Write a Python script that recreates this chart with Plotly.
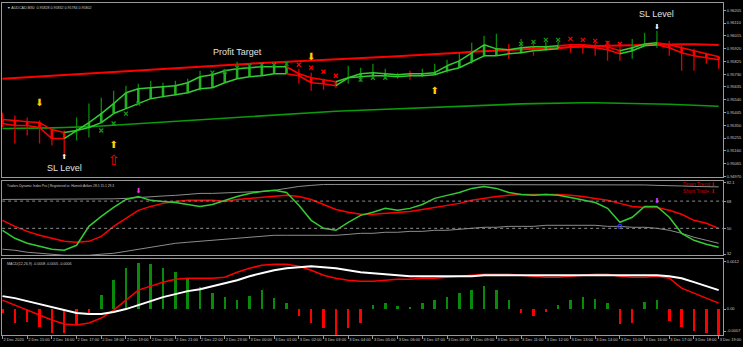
import plotly.graph_objects as go
from plotly.subplots import make_subplots

# ---------------- data ----------------
time_labels = ["2 Dec 2020", "2 Dec 15:00", "2 Dec 16:00", "2 Dec 17:00", "2 Dec 18:00", "2 Dec 19:00",
               "2 Dec 20:00", "2 Dec 21:00", "2 Dec 22:00", "2 Dec 23:00", "3 Dec 00:00", "3 Dec 01:00",
               "3 Dec 02:00", "3 Dec 03:00", "3 Dec 04:00", "3 Dec 05:00", "3 Dec 06:00", "3 Dec 07:00",
               "3 Dec 08:00", "3 Dec 09:00", "3 Dec 10:00", "3 Dec 11:00", "3 Dec 12:00", "3 Dec 13:00",
               "3 Dec 14:00", "3 Dec 15:00", "3 Dec 16:00", "3 Dec 17:00", "3 Dec 18:00", "3 Dec 19:00"]

bar_high = [0.95444, 0.95422, 0.95407, 0.95385, 0.95326, 0.95311, 0.95407, 0.95511, 0.95555, 0.95607,
            0.95644, 0.95659, 0.95681, 0.95666, 0.95681, 0.95696, 0.95755, 0.95741, 0.95770, 0.95822,
            0.95800, 0.95807, 0.95785, 0.95822, 0.95770, 0.95741, 0.95696, 0.95681, 0.95792, 0.95778,
            0.95807, 0.95770, 0.95741, 0.95755, 0.95770, 0.95807, 0.95837, 0.95889, 0.95963, 0.96015,
            0.96030, 0.95955, 0.95992, 0.95978, 0.95970, 0.95970, 0.95955, 0.95955, 0.95963, 0.95978,
            0.95963, 0.95992, 0.96037, 0.96052, 0.95978, 0.95955, 0.95918, 0.95889, 0.95866]
bar_low = [0.95333, 0.95214, 0.95274, 0.95214, 0.95200, 0.95140, 0.95237, 0.95259, 0.95363, 0.95437,
           0.95496, 0.95533, 0.95548, 0.95555, 0.95570, 0.95585, 0.95607, 0.95629, 0.95666, 0.95703,
           0.95711, 0.95718, 0.95733, 0.95733, 0.95659, 0.95607, 0.95615, 0.95629, 0.95659, 0.95674,
           0.95696, 0.95711, 0.95696, 0.95689, 0.95711, 0.95733, 0.95741, 0.95778, 0.95807, 0.95859,
           0.95866, 0.95844, 0.95881, 0.95866, 0.95904, 0.95911, 0.95889, 0.95881, 0.95866, 0.95829,
           0.95829, 0.95844, 0.95941, 0.95926, 0.95866, 0.95755, 0.95755, 0.95807, 0.95770]
ribbon_a = [0.95392, 0.95385, 0.95377, 0.95370, 0.95318, 0.95296, 0.95311, 0.95370, 0.95437, 0.95511,
            0.95592, 0.95622, 0.95629, 0.95637, 0.95644, 0.95666, 0.95711, 0.95726, 0.95755, 0.95770,
            0.95778, 0.95785, 0.95785, 0.95785, 0.95733, 0.95703, 0.95689, 0.95674, 0.95703, 0.95733,
            0.95741, 0.95733, 0.95726, 0.95733, 0.95733, 0.95741, 0.95792, 0.95829, 0.95889, 0.95948,
            0.95918, 0.95911, 0.95926, 0.95933, 0.95933, 0.95941, 0.95948, 0.95948, 0.95941, 0.95933,
            0.95904, 0.95926, 0.95955, 0.95963, 0.95948, 0.95926, 0.95904, 0.95881, 0.95859]
ribbon_b = [0.95363, 0.95348, 0.95348, 0.95333, 0.95251, 0.95251, 0.95311, 0.95333, 0.95370, 0.95437,
            0.95474, 0.95511, 0.95548, 0.95563, 0.95577, 0.95592, 0.95622, 0.95629, 0.95666, 0.95696,
            0.95711, 0.95718, 0.95733, 0.95733, 0.95718, 0.95666, 0.95659, 0.95644, 0.95703, 0.95711,
            0.95718, 0.95718, 0.95711, 0.95718, 0.95718, 0.95726, 0.95755, 0.95778, 0.95822, 0.95866,
            0.95866, 0.95881, 0.95889, 0.95904, 0.95911, 0.95918, 0.95933, 0.95933, 0.95926, 0.95911,
            0.95881, 0.95904, 0.95941, 0.95948, 0.95926, 0.95889, 0.95866, 0.95852, 0.95837]
trend = list("rrrrrr" + "g" * 18 + "rrrr" + "g" * 18 + "rrrrr" + "ggg" + "rrrrr")
wick_col = list("rrrrrr" + "g" * 18 + "rrrr" + "gggg" + "rr" + "ggggggg" + "r" + "g" + "r" + "gg" + "rrrrr" + "ggg" + "rrrrr")

ma_slow_red = [0.95696, 0.95701, 0.95707, 0.95712, 0.95718, 0.95723, 0.95729, 0.95735, 0.95741, 0.95746,
               0.95752, 0.95757, 0.95763, 0.95768, 0.95774, 0.95779, 0.95785, 0.95790, 0.95796, 0.95801,
               0.95807, 0.95813, 0.95818, 0.95824, 0.95829, 0.95834, 0.95839, 0.95843, 0.95847, 0.95852,
               0.95855, 0.95860, 0.95864, 0.95868, 0.95872, 0.95877, 0.95881, 0.95889, 0.95896, 0.95901,
               0.95906, 0.95911, 0.95915, 0.95919, 0.95924, 0.95928, 0.95932, 0.95936, 0.95940, 0.95942,
               0.95945, 0.95948, 0.95950, 0.95952, 0.95954, 0.95953, 0.95952, 0.95949, 0.95947]
ma_slow_green = [0.95326, 0.95326, 0.95326, 0.95329, 0.95331, 0.95333, 0.95334, 0.95340, 0.95345, 0.95351,
                 0.95357, 0.95363, 0.95369, 0.95374, 0.95380, 0.95385, 0.95391, 0.95396, 0.95402, 0.95409,
                 0.95414, 0.95421, 0.95427, 0.95434, 0.95440, 0.95445, 0.95449, 0.95454, 0.95458, 0.95462,
                 0.95466, 0.95470, 0.95474, 0.95478, 0.95482, 0.95486, 0.95490, 0.95494, 0.95497, 0.95500,
                 0.95503, 0.95506, 0.95509, 0.95511, 0.95514, 0.95516, 0.95517, 0.95518, 0.95518, 0.95517,
                 0.95516, 0.95514, 0.95511, 0.95508, 0.95506, 0.95503, 0.95500, 0.95496, 0.95491]

cross_green_idx = [8, 9, 10, 11, 17, 18, 19, 20, 21, 22, 23, 29, 30, 31, 42, 43, 44, 45]
cross_green_val = [0.95311, 0.95363, 0.95437, 0.95511, 0.95741, 0.95748, 0.95778, 0.95792, 0.95800, 0.95800,
                   0.95807, 0.95689, 0.95703, 0.95703, 0.95955, 0.95970, 0.95985, 0.95985]
cross_red_idx = [24, 25, 26, 27, 46, 47, 48, 49, 50]
cross_red_val = [0.95800, 0.95778, 0.95748, 0.95718, 0.95992, 0.95985, 0.95978, 0.95963, 0.95955]

arrow_dn_idx = [3, 25]
arrow_dn_val = [0.95511, 0.95852]
arrow_up_idx = [9, 35]
arrow_up_val = [0.95200, 0.95600]

tdi_green = [48.7, 43.4, 40.1, 38.1, 36.2, 35.5, 38.8, 51.3, 57.9, 63.8,
             69.1, 71.1, 68.5, 67.8, 67.1, 65.8, 64.5, 65.8, 68.5, 71.1,
             73.1, 74.4, 75.1, 73.7, 65.2, 55.3, 50.0, 48.7, 54.0, 58.6,
             60.6, 63.2, 61.9, 63.2, 65.8, 69.8, 71.8, 73.7, 76.4, 77.7,
             76.4, 73.7, 72.4, 71.8, 72.4, 71.8, 70.4, 68.5, 67.1, 63.2,
             54.0, 57.3, 64.5, 64.5, 57.3, 46.7, 42.1, 39.5, 37.5]
tdi_red = [55.3, 51.3, 48.0, 45.4, 43.4, 41.4, 40.8, 41.4, 44.7, 51.3,
           56.6, 61.9, 64.5, 66.5, 67.8, 68.5, 68.5, 68.5, 67.8, 69.1,
           69.8, 70.4, 71.1, 71.8, 71.1, 69.1, 65.8, 62.5, 60.6, 59.3,
           59.3, 59.9, 60.6, 61.2, 62.5, 63.8, 65.2, 66.5, 68.5, 69.8,
           71.1, 71.8, 72.4, 72.4, 72.4, 72.4, 71.8, 71.1, 69.8, 68.5,
           66.5, 64.5, 63.8, 63.8, 61.9, 59.3, 55.3, 53.3, 50.0]
tdi_band_up = [69.1, 69.1, 69.1, 69.1, 69.1, 69.1, 69.1, 69.1, 69.1, 69.5,
               69.8, 70.4, 71.1, 71.4, 71.8, 72.4, 73.1, 73.1, 73.4, 73.7,
               73.7, 74.4, 75.1, 76.4, 77.7, 78.4, 79.0, 79.0, 79.0, 79.0,
               79.0, 79.0, 79.0, 79.0, 79.0, 79.0, 79.0, 79.0, 79.0, 79.0,
               79.0, 79.0, 79.0, 79.0, 79.0, 79.0, 79.0, 79.0, 79.0, 79.0,
               79.0, 79.0, 78.7, 78.4, 78.4, 78.0, 77.7, 77.7, 77.4]
tdi_band_dn = [36.2, 35.5, 34.2, 33.5, 32.9, 32.2, 32.2, 32.2, 32.9, 33.5,
               34.8, 36.2, 37.5, 38.8, 40.1, 40.8, 41.4, 42.1, 42.7, 43.4,
               44.1, 44.7, 45.4, 45.4, 45.4, 45.4, 45.4, 45.4, 46.0, 46.7,
               46.7, 47.4, 47.4, 48.0, 48.0, 48.7, 48.7, 49.3, 50.0, 50.7,
               50.7, 51.3, 51.3, 51.3, 52.0, 52.0, 52.0, 52.0, 52.0, 51.3,
               51.3, 50.7, 50.7, 50.0, 48.7, 46.7, 44.1, 42.1, 40.1]

macd_hist = [-0.0001, -0.00035, -0.000325, -0.00045, -0.0006, -0.0006, -0.0004, -0.00015, 0.00035, 0.000725,
             0.001025, 0.00115, 0.001125, 0.001025, 0.000925, 0.00075, 0.00055, 0.0004, 0.0003, 0.000225,
             0.000325, 0.000475, 0.000275, 0.00015, -0.000175, -0.00035, -0.000475, -0.00065, -0.000475, -0.00035,
             0.0001, 0.00015, 0.000075, 0.00005, 0.00015, 0.000225, 0.0003, 0.0004, 0.000475, 0.000575,
             0.000475, 0.000225, -0.0001, -0.000175, -0.000075, 0.0001, 0.000225, 0.0003, 0.00025, 0.00015,
             -0.000375, -0.00035, 0.000175, 0.000225, -0.0003, -0.00045, -0.00055, -0.0006, -0.00065]
macd_red = [0.000225, 0.0001, -0.000025, -0.00015, -0.000275, -0.000375, -0.0004, -0.00035, -0.000225, -0.000025,
            0.000225, 0.000475, 0.000575, 0.000675, 0.00075, 0.000775, 0.000775, 0.000775, 0.0008, 0.000925,
            0.001025, 0.0011, 0.001125, 0.001125, 0.001075, 0.000975, 0.00085, 0.000775, 0.000725, 0.0007,
            0.0007, 0.000725, 0.00075, 0.00075, 0.000775, 0.000775, 0.0008, 0.000825, 0.00085, 0.000875,
            0.000875, 0.000875, 0.00085, 0.000825, 0.0008, 0.0008, 0.000825, 0.00085, 0.000875, 0.000875,
            0.000825, 0.0008, 0.0008, 0.000825, 0.000775, 0.000525, 0.0004, 0.000275, 0.00015]
macd_white = [0.000325, 0.000275, 0.0002, 0.000125, 0.00005, -0.000025, -0.0001, -0.000125, -0.000125, -0.000075,
              0.0, 0.0001, 0.0002, 0.0003, 0.000375, 0.00045, 0.0005, 0.000575, 0.00065, 0.000725,
              0.000825, 0.0009, 0.000975, 0.001025, 0.00105, 0.001075, 0.00105, 0.001025, 0.000975, 0.000925,
              0.0009, 0.000875, 0.00085, 0.000825, 0.000825, 0.000825, 0.000825, 0.000825, 0.000825, 0.00085,
              0.00085, 0.00085, 0.00085, 0.00085, 0.00085, 0.00085, 0.00085, 0.00085, 0.00085, 0.00085,
              0.00085, 0.00085, 0.00085, 0.00085, 0.000825, 0.000775, 0.000675, 0.000575, 0.000475]

price_ticks = [0.96205, 0.96110, 0.96015, 0.95920, 0.95825, 0.95730, 0.95635, 0.95540, 0.95445,
               0.95350, 0.95255, 0.95160, 0.95065, 0.94970]

# ---------------- figure ----------------
N = len(bar_high)
bars = list(range(N))
GREEN = "#33cc33"
DKGREEN = "#0a8a0a"
RED = "#ff0000"
AX = "#9a9a9a"
TXT = "#c8c8c8"
FONT = "Liberation Sans"
ARROWFONT = "DejaVu Sans"

fig = make_subplots(rows=3, cols=1, shared_xaxes=True, vertical_spacing=0)


def seg(idx, a, b):
    xs, ys = [], []
    for i in idx:
        xs += [i, i, None]
        ys += [a[i], b[i], None]
    return xs, ys


def runs(col, c):
    xs, ys_a, ys_b = [], [], []
    for i in range(1, N):
        if col[i] == c:
            xs += [i - 1, i, None]
            ys_a += [ribbon_a[i - 1], ribbon_a[i], None]
            ys_b += [ribbon_b[i - 1], ribbon_b[i], None]
    return xs, ys_a, ys_b


def glyphs(x, y, ch, color, size, row):
    fig.add_trace(go.Scatter(x=x, y=y, mode="text", text=[ch] * len(x), textposition="middle center",
                             textfont=dict(family=ARROWFONT, size=size, color=color), hoverinfo="skip"),
                  row=row, col=1)


# slow moving averages
fig.add_trace(go.Scatter(x=bars, y=ma_slow_green, mode="lines", line=dict(color="#0b9a0b", width=1.6),
                         hoverinfo="skip"), row=1, col=1)
fig.add_trace(go.Scatter(x=bars, y=ma_slow_red, mode="lines", line=dict(color=RED, width=2),
                         hoverinfo="skip"), row=1, col=1)

# wicks and bodies
for c, wc, bc in (("g", DKGREEN, "#22b022"), ("r", "#e00000", RED)):
    idx = [i for i in range(N) if wick_col[i] == c]
    xs, ys = seg(idx, bar_high, bar_low)
    fig.add_trace(go.Scatter(x=xs, y=ys, mode="lines", line=dict(color=wc, width=1.3), hoverinfo="skip"),
                  row=1, col=1)
    xs, ys = seg(idx, ribbon_a, ribbon_b)
    fig.add_trace(go.Scatter(x=xs, y=ys, mode="lines", line=dict(color=bc, width=2.6), hoverinfo="skip"),
                  row=1, col=1)

# ribbon lines
for c, lc in (("g", GREEN), ("r", RED)):
    xs, ya, yb = runs(trend, c)
    fig.add_trace(go.Scatter(x=xs, y=ya, mode="lines", line=dict(color=lc, width=1.5), hoverinfo="skip"),
                  row=1, col=1)
    fig.add_trace(go.Scatter(x=xs, y=yb, mode="lines", line=dict(color=lc, width=1.5), hoverinfo="skip"),
                  row=1, col=1)

# crosses
fig.add_trace(go.Scatter(x=cross_green_idx, y=cross_green_val, mode="markers",
                         marker=dict(symbol="x-thin-open", size=4, color="#1a9a1a",
                                     line=dict(color="#1a9a1a", width=1.2)),
                         hoverinfo="skip"), row=1, col=1)
fig.add_trace(go.Scatter(x=cross_red_idx, y=cross_red_val, mode="markers",
                         marker=dict(symbol="x-thin-open", size=4, color=RED, line=dict(color=RED, width=1.2)),
                         hoverinfo="skip"), row=1, col=1)

# signal arrows
glyphs(arrow_dn_idx, arrow_dn_val, "⬇", "#ffcc00", 10, 1)
glyphs(arrow_up_idx, arrow_up_val, "⬆", "#ffcc00", 10, 1)
glyphs([9], [0.95081], "⇧", RED, 14, 1)
glyphs([5], [0.95111], "⬆", "#ffffff", 7, 1)
glyphs([53], [0.96081], "⬇", "#ffffff", 7, 1)

# TDI
fig.add_trace(go.Scatter(x=bars, y=tdi_band_up, mode="lines", line=dict(color="#8c8c8c", width=1), hoverinfo="skip"),
              row=2, col=1)
fig.add_trace(go.Scatter(x=bars, y=tdi_band_dn, mode="lines", line=dict(color="#8c8c8c", width=1), hoverinfo="skip"),
              row=2, col=1)
fig.add_trace(go.Scatter(x=bars, y=tdi_red, mode="lines", line=dict(color=RED, width=1.5), hoverinfo="skip"),
              row=2, col=1)
fig.add_trace(go.Scatter(x=bars, y=tdi_green, mode="lines", line=dict(color=GREEN, width=1.5), hoverinfo="skip"),
              row=2, col=1)
glyphs([11, 53], [74.4, 67.8], "⬇", "#ff33ff", 7, 2)
fig.add_trace(go.Scatter(x=[50], y=[51.3], mode="markers",
                         marker=dict(symbol="circle-open", size=4, color="#3333ff",
                                     line=dict(color="#3333ff", width=1.2)),
                         hoverinfo="skip"), row=2, col=1)

# MACD
fig.add_trace(go.Bar(x=bars, y=macd_hist, width=0.2,
                     marker=dict(color=["#0a8a0a" if v >= 0 else RED for v in macd_hist], line=dict(width=0)),
                     hoverinfo="skip"), row=3, col=1)
fig.add_trace(go.Scatter(x=bars, y=macd_red, mode="lines", line=dict(color=RED, width=1.5), hoverinfo="skip"),
              row=3, col=1)
fig.add_trace(go.Scatter(x=bars, y=macd_white, mode="lines", line=dict(color="#ffffff", width=2), hoverinfo="skip"),
              row=3, col=1)

# levels on TDI
for lv in (68, 50):
    fig.add_shape(type="line", xref="x2", yref="y2", x0=-1, x1=60, y0=lv, y1=lv,
                  line=dict(color="#8c8c8c", width=1, dash="dot"))

xr = [-0.04, 58.35]
axis_common = dict(showline=True, mirror=True, linecolor=AX, linewidth=1, showgrid=False, zeroline=False)
fig.update_xaxes(range=xr, ticks="", showticklabels=False, **axis_common)
fig.update_xaxes(row=3, col=1, showticklabels=True, ticks="outside", ticklen=3, tickcolor=AX, tickangle=0,
                 tickvals=list(range(0, N, 2)), ticktext=time_labels, ticklabelposition="outside right",
                 tickfont=dict(size=4, color=TXT, family=FONT))
ycommon = dict(side="right", ticks="outside", ticklen=2, tickcolor=AX,
               tickfont=dict(size=4, color=TXT, family=FONT), **axis_common)
fig.update_layout(
    yaxis=dict(domain=[0.4745, 1.0], range=[0.94962, 0.96259], tickvals=price_ticks,
               ticktext=[f"{v:.5f}" for v in price_ticks], **ycommon),
    yaxis2=dict(domain=[0.2402, 0.4625], range=[32.2, 81.0], tickvals=[80.4, 68, 50, 33.0],
                ticktext=["82.1", "68", "50", "32"], **ycommon),
    yaxis3=dict(domain=[0.0, 0.2282], range=[-0.00065, 0.00125], tickvals=[0.0012, 0.0, -0.00055],
                ticktext=["0.0012", "0.00", "-0.0007"], **ycommon),
)

ann = []
ann.append(dict(text="▼ AUDCAD,M30  0.95828 0.95832 0.95784 0.95802", xref="paper", yref="paper",
                x=0.004, y=0.996, xanchor="left", yanchor="top", showarrow=False,
                font=dict(size=3.6, color=TXT, family=FONT)))
ann.append(dict(text="Traders Dynamic Index Pro | Registered to: Hamish Aitken 28.5 15.1 29.3", xref="paper",
                yref="paper", x=0.004, y=0.4605, xanchor="left", yanchor="top", showarrow=False,
                font=dict(size=3.3, color=TXT, family=FONT)))
ann.append(dict(text="MACD(12,26,9) -0.0008 -0.0005 -0.0006", xref="paper", yref="paper",
                x=0.004, y=0.2262, xanchor="left", yanchor="top", showarrow=False,
                font=dict(size=3.6, color=TXT, family=FONT)))
ann.append(dict(text="Profit Target", x=19, y=0.95896, xref="x", yref="y", showarrow=False,
                font=dict(size=9, color="#e0e0e0", family=FONT)))
ann.append(dict(text="SL Level", x=5, y=0.95029, xref="x", yref="y", showarrow=False,
                font=dict(size=9, color="#e0e0e0", family=FONT)))
ann.append(dict(text="SL Level", x=53, y=0.96178, xref="x", yref="y", showarrow=False,
                font=dict(size=9, color="#e0e0e0", family=FONT)))
ann.append(dict(text="Down Trend ⬇", x=57.9, y=79.3, xref="x2", yref="y2", xanchor="right", showarrow=False,
                font=dict(size=5, color="#cc0000", family=FONT)))
ann.append(dict(text="Short Trade ⬇", x=57.9, y=74.9, xref="x2", yref="y2", xanchor="right", showarrow=False,
                font=dict(size=5, color="#cc0000", family=FONT)))

fig.update_layout(
    width=743, height=347, margin=dict(l=1, r=18, t=2, b=12),
    paper_bgcolor="#000000", plot_bgcolor="#000000", showlegend=False, bargap=0,
    annotations=ann,
)

fig.write_html("out.html")
